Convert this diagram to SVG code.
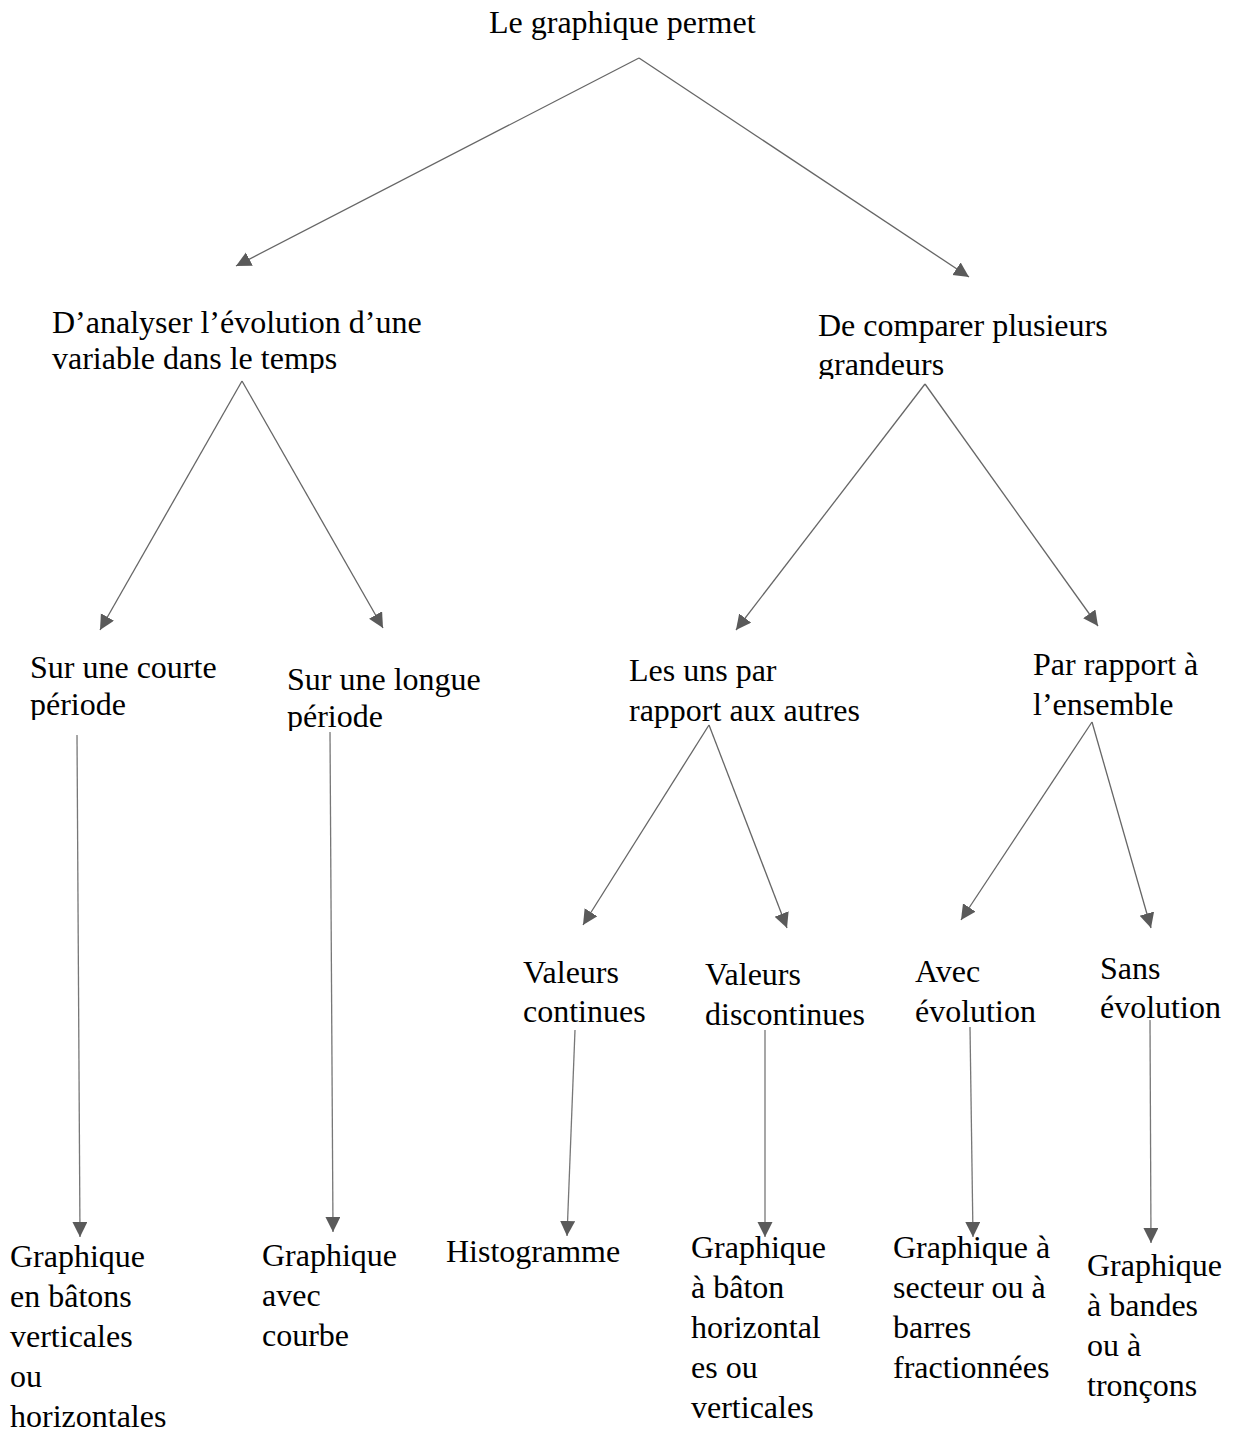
<svg xmlns="http://www.w3.org/2000/svg" width="1238" height="1434" viewBox="0 0 1238 1434">
<style>
text{font-family:"Liberation Serif","Times New Roman",serif;font-size:32px;fill:#000}
.c line{stroke:#666;stroke-width:1.3;marker-end:url(#ah)}
.c line.v{stroke:#777}
</style>
<defs>
<marker id="ah" markerUnits="userSpaceOnUse" markerWidth="16" markerHeight="16" refX="15" refY="7.5" orient="auto"><path d="M0,0 L15,7.5 L0,15 z" fill="#5a5a5a"/></marker>
<clipPath id="c1"><rect x="0" y="290" width="600" height="83"/></clipPath>
<clipPath id="c2"><rect x="700" y="290" width="538" height="89"/></clipPath>
<clipPath id="c3"><rect x="0" y="640" width="270" height="80"/></clipPath>
<clipPath id="c4"><rect x="270" y="640" width="300" height="91"/></clipPath>
</defs>
<g class="c" id="connectors">
<line x1="639" y1="58" x2="236" y2="266"/>
<line x1="639" y1="58" x2="969" y2="277"/>
<line x1="242" y1="381" x2="100" y2="630"/>
<line x1="242" y1="381" x2="383" y2="628"/>
<line x1="925" y1="384" x2="736" y2="630"/>
<line x1="925" y1="384" x2="1098" y2="626"/>
<line x1="709" y1="725" x2="583" y2="925"/>
<line x1="709" y1="725" x2="787" y2="928"/>
<line x1="1092" y1="722" x2="961" y2="920"/>
<line x1="1092" y1="722" x2="1151" y2="928"/>
<line class="v" x1="77" y1="735" x2="80" y2="1237"/>
<line class="v" x1="330" y1="732" x2="333" y2="1232"/>
<line class="v" x1="575" y1="1030" x2="567" y2="1236"/>
<line class="v" x1="765" y1="1030" x2="765" y2="1237"/>
<line class="v" x1="970" y1="1027" x2="973" y2="1237"/>
<line class="v" x1="1150" y1="1020" x2="1151" y2="1243"/>
</g>
<g id="root"><text x="489" y="33">Le graphique permet</text></g>
<g id="n-analyser" clip-path="url(#c1)"><text x="52" y="333">D’analyser l’évolution d’une</text><text x="52" y="369">variable dans le temps</text></g>
<g id="n-comparer" clip-path="url(#c2)"><text x="818" y="336">De comparer plusieurs</text><text x="818" y="375">grandeurs</text></g>
<g id="n-courte" clip-path="url(#c3)"><text x="30" y="678">Sur une courte</text><text x="30" y="715">période</text></g>
<g id="n-longue" clip-path="url(#c4)"><text x="287" y="690">Sur une longue</text><text x="287" y="727">période</text></g>
<g id="n-unsautres"><text x="629" y="681">Les uns par</text><text x="629" y="721">rapport aux autres</text></g>
<g id="n-ensemble"><text x="1033" y="675">Par rapport à</text><text x="1033" y="715">l’ensemble</text></g>
<g id="n-continues"><text x="523" y="983">Valeurs</text><text x="523" y="1022">continues</text></g>
<g id="n-discontinues"><text x="705" y="985">Valeurs</text><text x="705" y="1025">discontinues</text></g>
<g id="n-avec"><text x="915" y="982">Avec</text><text x="915" y="1022">évolution</text></g>
<g id="n-sans"><text x="1100" y="979">Sans</text><text x="1100" y="1018">évolution</text></g>
<g id="l-batons"><text x="10" y="1267">Graphique</text><text x="10" y="1307">en bâtons</text><text x="10" y="1347">verticales</text><text x="10" y="1387">ou</text><text x="10" y="1427">horizontales</text></g>
<g id="l-courbe"><text x="262" y="1266">Graphique</text><text x="262" y="1306">avec</text><text x="262" y="1346">courbe</text></g>
<g id="l-histo"><text x="446" y="1262">Histogramme</text></g>
<g id="l-baton"><text x="691" y="1258">Graphique</text><text x="691" y="1298">à bâton</text><text x="691" y="1338">horizontal</text><text x="691" y="1378">es ou</text><text x="691" y="1418">verticales</text></g>
<g id="l-secteur"><text x="893" y="1258">Graphique à</text><text x="893" y="1298">secteur ou à</text><text x="893" y="1338">barres</text><text x="893" y="1378">fractionnées</text></g>
<g id="l-bandes"><text x="1087" y="1276">Graphique</text><text x="1087" y="1316">à bandes</text><text x="1087" y="1356">ou à</text><text x="1087" y="1396">tronçons</text></g>
</svg>
